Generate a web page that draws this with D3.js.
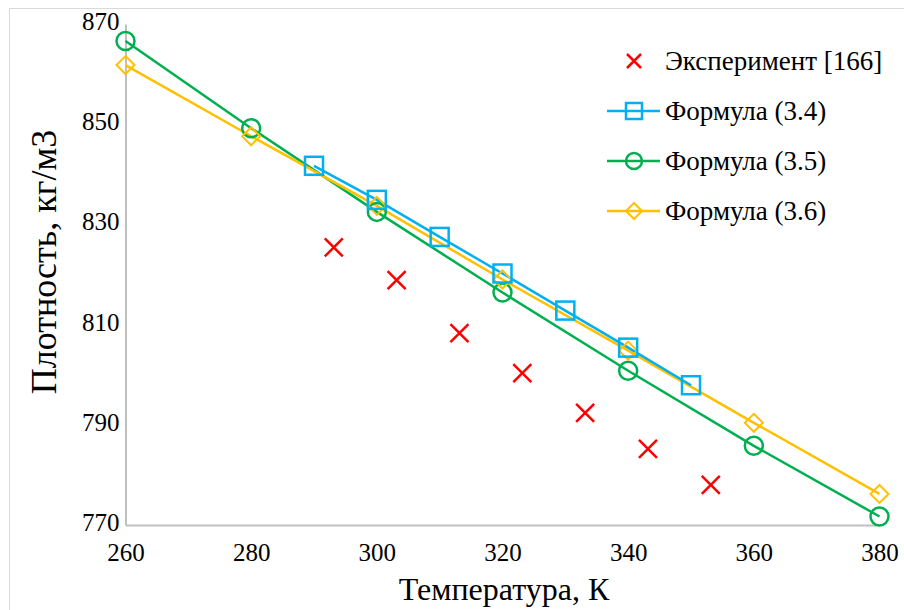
<!DOCTYPE html>
<html>
<head>
<meta charset="utf-8">
<script src="https://cdn.jsdelivr.net/npm/d3@7"></script>
<style>
  html, body { margin: 0; padding: 0; background: #fff; }
</style>
</head>
<body>
<svg id="chart" width="904" height="610"></svg>
<script>
// Density of the liquid vs. temperature: experiment and three correlations
const xTicks = [260, 280, 300, 320, 340, 360, 380];
const yTicks = [770, 790, 810, 830, 850, 870];

const expT   = [293.15, 303.15, 313.15, 323.15, 333.15, 343.15, 353.15];
const expRho = [825.4, 818.9, 808.3, 800.3, 792.4, 785.2, 778.0];

const f34T   = [290, 300, 310, 320, 330, 340, 350];
const f34Rho = [841.7, 834.9, 827.5, 820.2, 812.8, 805.4, 797.9];

const f35T   = [260, 280, 300, 320, 340, 360, 380];
const f35Rho = [866.6, 849.2, 832.5, 816.4, 800.8, 785.8, 771.7];

const f36T   = [260, 280, 300, 320, 340, 360, 380];
const f36Rho = [861.8, 847.6, 833.7, 819.0, 804.8, 790.4, 776.2];

const seriesNames = ["Эксперимент [166]", "Формула (3.4)", "Формула (3.5)", "Формула (3.6)"];
const xTitle = "Температура, К";
const yTitle = "Плотность, кг/м3";

const colors = { exp: "#ff0000", f34: "#00b0f0", f35: "#00b050", f36: "#ffc000" };
const FONT = "'Liberation Serif', 'Times New Roman', serif";

const svg = d3.select("#chart");

// outer frame
svg.append("rect").attr("x", 9.5).attr("y", 8.5).attr("width", 904).attr("height", 610)
  .attr("fill", "none").attr("stroke", "#d9d9d9").attr("stroke-width", 1);

const x = d3.scaleLinear().domain([260, 380]).range([125.5, 879.5]);
const y = d3.scaleLinear().domain([770, 870]).range([525, 24]);

// axes
const xAxis = svg.append("g").attr("transform", `translate(0,${y(770)})`)
  .call(d3.axisBottom(x).tickValues(xTicks).tickSize(0).tickPadding(18).tickFormat(d3.format("d")));
xAxis.select(".domain").attr("stroke", "#bfbfbf").attr("stroke-width", 2);
xAxis.selectAll("text").style("font-family", FONT).style("font-size", "25px").attr("fill", "#000");

const yAxis = svg.append("g").attr("transform", `translate(${x(260)},0)`)
  .call(d3.axisLeft(y).tickValues(yTicks).tickSize(0).tickPadding(6).tickFormat(d3.format("d")));
yAxis.select(".domain").attr("stroke", "#bfbfbf").attr("stroke-width", 2);
yAxis.selectAll("text").style("font-family", FONT).style("font-size", "25px").attr("fill", "#000")
  .attr("dy", "0.22em");

// axis titles
svg.append("text").attr("x", 504).attr("y", 600).attr("text-anchor", "middle")
  .style("font-family", FONT).style("font-size", "32px").text(xTitle);
svg.append("text").attr("transform", `translate(56,262) rotate(-90)`)
  .attr("text-anchor", "middle").style("font-family", FONT).style("font-size", "36px").text(yTitle);

const line = d3.line().x(d => x(d[0])).y(d => y(d[1]));
const zip = (a, b) => a.map((v, i) => [v, b[i]]);

const MS = 9; // marker half-size
function marker(g, type, color, cx, cy, s) {
  if (type === "square") {
    g.append("rect").attr("x", cx - s).attr("y", cy - s).attr("width", 2 * s).attr("height", 2 * s)
      .attr("fill", "none").attr("stroke", color).attr("stroke-width", 2.5);
  } else if (type === "circle") {
    g.append("circle").attr("cx", cx).attr("cy", cy).attr("r", s)
      .attr("fill", "none").attr("stroke", color).attr("stroke-width", 2.5);
  } else if (type === "diamond") {
    g.append("path").attr("d", `M${cx},${cy - s}L${cx + s},${cy}L${cx},${cy + s}L${cx - s},${cy}Z`)
      .attr("fill", "none").attr("stroke", color).attr("stroke-width", 2);
  } else if (type === "cross") {
    g.append("path").attr("d", `M${cx - s},${cy - s}L${cx + s},${cy + s}M${cx - s},${cy + s}L${cx + s},${cy - s}`)
      .attr("fill", "none").attr("stroke", color).attr("stroke-width", 2.5);
  }
}

const series = [
  { T: f35T, R: f35Rho, color: colors.f35, type: "circle", line: true },
  { T: f36T, R: f36Rho, color: colors.f36, type: "diamond", line: true },
  { T: f34T, R: f34Rho, color: colors.f34, type: "square", line: true },
  { T: expT, R: expRho, color: colors.exp, type: "cross", line: false }
];

const plot = svg.append("g");
series.forEach(s => {
  if (s.line) {
    plot.append("path").datum(zip(s.T, s.R)).attr("d", line)
      .attr("fill", "none").attr("stroke", s.color).attr("stroke-width", 2.5);
  }
});
series.forEach(s => {
  const g = plot.append("g");
  zip(s.T, s.R).forEach(d => marker(g, s.type, s.color, x(d[0]), y(d[1]), MS));
});

// legend
const legendItems = [
  { name: seriesNames[0], color: colors.exp, type: "cross", line: false },
  { name: seriesNames[1], color: colors.f34, type: "square", line: true },
  { name: seriesNames[2], color: colors.f35, type: "circle", line: true },
  { name: seriesNames[3], color: colors.f36, type: "diamond", line: true }
];
const legend = svg.append("g");
legendItems.forEach((it, i) => {
  const cy = 61 + i * 50;
  const g = legend.append("g");
  if (it.line) {
    g.append("line").attr("x1", 607).attr("x2", 660).attr("y1", cy).attr("y2", cy)
      .attr("stroke", it.color).attr("stroke-width", 2.5);
  }
  marker(g, it.type, it.color, 634, cy, it.type === "cross" ? 7 : 8);
  g.append("text").attr("x", 665).attr("y", cy + 9)
    .style("font-family", FONT).style("font-size", "27px").text(it.name);
});
</script>
</body>
</html>
